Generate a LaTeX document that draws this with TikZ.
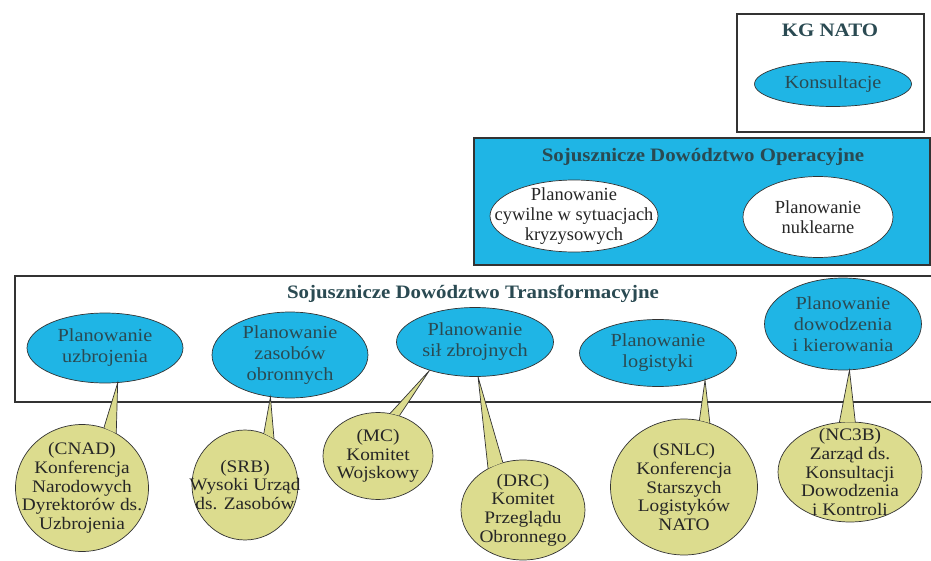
\documentclass[tikz,border=0pt]{standalone}
\usepackage{fontspec}
\setmainfont{Liberation Serif}[FakeStretch=1.1]
\newfontfamily\narrowserif{Liberation Serif}
\usetikzlibrary{shapes.geometric, positioning}
\definecolor{natocyan}{HTML}{1FB5E5}
\definecolor{paleolive}{HTML}{DCDC8E}
\definecolor{inkteal}{HTML}{2A4A52}
\definecolor{framegray}{HTML}{333333}

\begin{document}
\begin{tikzpicture}[x=0.02cm, y=-0.02cm]
\tikzstyle{panel} = [rectangle, draw=framegray, line width=0.8pt, inner sep=0pt]
\tikzstyle{heading} = [font=\fontsize{10.8}{12}\selectfont\bfseries, text=inkteal]
\tikzstyle{task} = [ellipse, draw=framegray, fill=natocyan, inner xsep=-20pt, inner ysep=-14pt, text=inkteal, align=center, font=\fontsize{10.5}{12}\selectfont]
\tikzstyle{civil} = [task, fill=white, text=black!85, font=\narrowserif\fontsize{10.5}{11.6}\selectfont]
\tikzstyle{body} = [ellipse, draw=framegray, fill=paleolive, inner xsep=-20pt, inner ysep=-14pt, text=black!85, align=center, font=\fontsize{10}{10.6}\selectfont]

\useasboundingbox[fill=white] (0,0) rectangle (931,561);

% Panels
\node (kgbox) [panel, fill=white, minimum width=3.74cm, minimum height=2.36cm] at (830.5,73) {};
\node (opbox) [panel, fill=natocyan, minimum width=9.12cm, minimum height=2.54cm] at (702,201.5) {};
\node (trbox) [panel, fill=white, minimum width=18.4cm, minimum height=2.52cm] at (475,339) {};

\node (kgtitle) [heading] at (830,30) {KG NATO};
\node (optitle) [heading] at (703,157) {Sojusznicze Dowództwo Operacyjne};
\node (trtitle) [heading] at (473,294) {Sojusznicze Dowództwo Transformacyjne};

% Planning areas
\node (konsult) [task, minimum width=3.14cm, minimum height=0.9cm] at (833,84) {Konsultacje};
\node (cywil) [civil, minimum width=3.36cm, minimum height=1.44cm] at (574,216) {Planowanie\\cywilne w sytuacjach\\kryzysowych};
\node (nukl) [civil, minimum width=3.0cm, minimum height=1.62cm] at (818,217) {Planowanie\\nuklearne};

\node (uzbr) [task, minimum width=3.12cm, minimum height=1.4cm] at (105,348) {Planowanie\\uzbrojenia};
\node (zasob) [task, minimum width=3.12cm, minimum height=1.72cm] at (290,355) {Planowanie\\zasobów\\obronnych};
\node (sil) [task, minimum width=3.14cm, minimum height=1.38cm] at (475,342) {Planowanie\\sił zbrojnych};
\node (logist) [task, minimum width=3.14cm, minimum height=1.34cm] at (658,353) {Planowanie\\logistyki};
\node (kier) [task, minimum width=3.14cm, minimum height=1.84cm] at (843,324) {Planowanie\\dowodzenia\\i kierowania};

% Committees
\node (cnad) [body, minimum width=2.66cm, minimum height=2.54cm] at (82,488) {(CNAD)\\Konferencja\\Narodowych\\Dyrektorów ds.\\Uzbrojenia};
\node (srb) [body, minimum width=2.12cm, minimum height=2.2cm] at (245,485) {(SRB)\\Wysoki Urząd\\ds. Zasobów};
\node (mc) [body, minimum width=2.2cm, minimum height=1.74cm] at (378,456) {(MC)\\Komitet\\Wojskowy};
\node (drc) [body, minimum width=2.48cm, minimum height=2.0cm] at (523,510) {(DRC)\\Komitet\\Przeglądu\\Obronnego};
\node (snlc) [body, minimum width=2.94cm, minimum height=2.72cm] at (684,487) {(SNLC)\\Konferencja\\Starszych\\Logistyków\\NATO};
\node (nc3b) [body, minimum width=2.88cm, minimum height=2.0cm] at (850,472) {(NC3B)\\Zarząd ds.\\Konsultacji\\Dowodzenia\\i Kontroli};

% Callout wedges
\foreach \bub/\src/\tip/\from/\to in {cnad/uzbr/-70/58/70, srb/zasob/-115/58/70, mc/sil/-148/62/74,
    drc/sil/-85/113/130, snlc/logist/-30/68/77, nc3b/kier/-82/84/102} {
  \fill[paleolive] (\bub.\from) -- (\src.\tip) -- (\bub.\to) -- cycle;
  \draw[framegray] (\bub.\from) -- (\src.\tip) -- (\bub.\to);
}
\end{tikzpicture}
\end{document}
